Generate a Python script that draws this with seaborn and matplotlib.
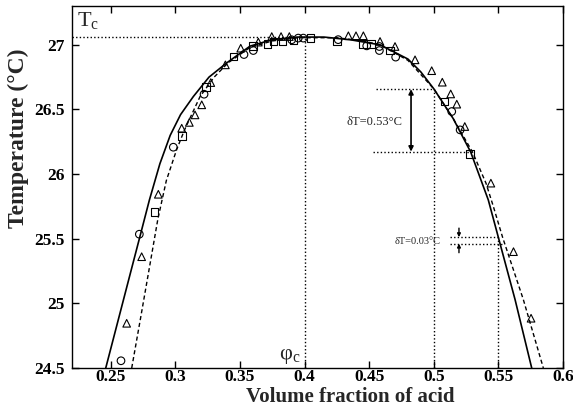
import matplotlib
matplotlib.use("Agg")
import matplotlib.pyplot as plt
import numpy as np
import pandas as pd
import seaborn as sns

# critical point
Tc = 27.064
phi_c = 0.40

# fitted coexistence curves
solid_phi = [0.2461, 0.2565, 0.2656, 0.2729, 0.2799, 0.2880, 0.2960, 0.3040, 0.3139, 0.3260, 0.3397, 0.3578,
             0.3750, 0.3950, 0.4150, 0.4350, 0.4584, 0.4800, 0.4900, 0.5000, 0.5150, 0.5286,
             0.5422, 0.5500, 0.5629, 0.5758]
solid_T = [24.50, 24.90, 25.25, 25.53, 25.80, 26.08, 26.30, 26.46, 26.60, 26.75, 26.86, 26.99,
           27.04, 27.06, 27.06, 27.04, 27.00, 26.89, 26.79, 26.66, 26.43, 26.17,
           25.80, 25.51, 25.03, 24.50]

dashed_phi = [0.2662, 0.2733, 0.2803, 0.2864, 0.2930, 0.3010, 0.3070, 0.3191, 0.3300, 0.3407, 0.3578,
              0.3750, 0.3950, 0.4250, 0.4450, 0.4584, 0.4800, 0.5000, 0.5150, 0.5300,
              0.5404, 0.5461, 0.5533, 0.5693, 0.5848]
dashed_T = [24.50, 24.90, 25.30, 25.65, 25.95, 26.19, 26.34, 26.60, 26.75, 26.86, 26.98,
            27.03, 27.055, 27.055, 27.03, 27.00, 26.88, 26.66, 26.43, 26.17,
            25.93, 25.75, 25.51, 25.03, 24.50]

# measured points
circ_phi = [0.2579, 0.2721, 0.2984, 0.3222, 0.3531, 0.3603, 0.3900, 0.3951, 0.3990, 0.4260,
            0.4481, 0.4579, 0.4579, 0.4705, 0.5139, 0.5204]
circ_T = [24.556, 25.535, 26.208, 26.618, 26.925, 26.956, 27.039, 27.052, 27.052, 27.040,
          26.992, 26.987, 26.956, 26.905, 26.484, 26.342]

sq_phi = [0.2838, 0.3049, 0.3237, 0.3449, 0.3599, 0.3712, 0.3758, 0.3828, 0.3913, 0.4047,
          0.4253, 0.4450, 0.4512, 0.4661, 0.5082, 0.5281]
sq_T = [25.705, 26.296, 26.673, 26.909, 26.990, 27.008, 27.026, 27.026, 27.033, 27.052,
        27.026, 27.008, 27.008, 26.956, 26.561, 26.156]

tri_phi = [0.2623, 0.2739, 0.2868, 0.3049, 0.3108, 0.3152, 0.3204, 0.3274, 0.3387, 0.3506,
           0.3642, 0.3746, 0.3818, 0.3882, 0.4339, 0.4398, 0.4455, 0.4584, 0.4700, 0.4855,
           0.4984, 0.5066, 0.5131, 0.5178, 0.5240, 0.5442, 0.5617, 0.5753]
tri_T = [24.846, 25.361, 25.844, 26.355, 26.400, 26.458, 26.536, 26.708, 26.845, 26.974,
         27.021, 27.064, 27.064, 27.064, 27.070, 27.070, 27.070, 27.026, 26.987, 26.884,
         26.800, 26.711, 26.620, 26.541, 26.368, 25.930, 25.400, 24.885]

x_ticks = [0.25, 0.3, 0.35, 0.4, 0.45, 0.5, 0.55, 0.6]
x_labels = ["0.25", "0.3", "0.35", "0.4", "0.45", "0.5", "0.55", "0.6"]
y_ticks = [24.5, 25, 25.5, 26, 26.5, 27]
y_labels = ["24.5", "25", "25.5", "26", "26.5", "27"]

# the two delta T markers
dT1_top, dT1_bot, dT1_phi = 26.657, 26.174, 0.50
dT2_top, dT2_bot, dT2_phi = 25.512, 25.462, 0.55

sns.set_style("ticks")
plt.rcParams["font.family"] = ["Liberation Serif", "DejaVu Serif"]
plt.rcParams["mathtext.fontset"] = "custom"
plt.rcParams["mathtext.rm"] = "Liberation Serif"
plt.rcParams["mathtext.it"] = "Liberation Serif:italic"
plt.rcParams["mathtext.bf"] = "Liberation Serif:bold"

fig = plt.figure(figsize=(5.73, 4.17), dpi=100)
ax = fig.add_axes([0.1257, 0.1175, 0.8568, 0.868])

sns.lineplot(x=solid_phi, y=solid_T, sort=False, estimator=None, color="black", lw=1.2, ax=ax)
sns.lineplot(x=dashed_phi, y=dashed_T, sort=False, estimator=None, color="black", lw=1.0,
             linestyle=(0, (3, 2)), ax=ax)

mk = dict(facecolor="none", edgecolor="black", linewidth=0.8, s=30, ax=ax, legend=False)
sns.scatterplot(x=circ_phi, y=circ_T, marker="o", **mk)
sns.scatterplot(x=sq_phi, y=sq_T, marker="s", **mk)
sns.scatterplot(x=tri_phi, y=tri_T, marker="^", **mk)

dot = dict(color="black", lw=1.0, linestyle=(0, (1, 1.6)))
ax.plot([0.22, phi_c], [Tc, Tc], **dot)
ax.plot([phi_c, phi_c], [24.5, Tc], **dot)

# delta T = 0.53
ax.plot([0.455, dT1_phi], [dT1_top, dT1_top], **dot)
ax.plot([0.453, 0.530], [dT1_bot, dT1_bot], **dot)
ax.plot([dT1_phi, dT1_phi], [24.5, dT1_top], **dot)
ax.annotate("", xy=(0.4824, dT1_top), xytext=(0.4824, dT1_bot),
            arrowprops=dict(arrowstyle="<|-|>", color="black", lw=1.2,
                            mutation_scale=7, shrinkA=0, shrinkB=0))
ax.text(0.4545, 26.404, "δT=0.53°C", ha="center", va="center", fontsize=9)

# delta T = 0.03
ax.plot([0.5125, dT2_phi], [dT2_top, dT2_top], **dot)
ax.plot([0.5125, 0.5525], [dT2_bot, dT2_bot], **dot)
ax.plot([dT2_phi, dT2_phi], [24.5, dT2_top], **dot)
ax.annotate("", xy=(0.5195, dT2_top), xytext=(0.5195, dT2_top + 0.07),
            arrowprops=dict(arrowstyle="-|>", color="black", lw=1.0,
                            mutation_scale=5, shrinkA=0, shrinkB=0))
ax.annotate("", xy=(0.5195, dT2_bot), xytext=(0.5195, dT2_bot - 0.07),
            arrowprops=dict(arrowstyle="-|>", color="black", lw=1.0,
                            mutation_scale=5, shrinkA=0, shrinkB=0))
ax.text(0.4875, 25.478, "δT=0.03°C", ha="center", va="center", fontsize=7.5)

ax.text(0.224, 27.19, r"$\mathrm{T_c}$", fontsize=16, ha="left", va="center")
ax.text(0.380, 24.59, r"$\mathrm{φ_c}$", fontsize=16, ha="left", va="center")

ax.set_xlim(0.22, 0.6)
ax.set_ylim(24.5, 27.3)
ax.set_xticks(x_ticks)
ax.set_xticklabels(x_labels)
ax.set_yticks(y_ticks)
ax.set_yticklabels(y_labels)
ax.tick_params(direction="in", length=5, width=1, top=True, right=True,
               labelsize=12.5, colors="black")
ax.tick_params(axis="x", pad=0.5)
ax.tick_params(axis="y", pad=5)
for lab in ax.get_xticklabels() + ax.get_yticklabels():
    lab.set_fontweight("bold")
for sp in ax.spines.values():
    sp.set_visible(True)
    sp.set_color("black")
    sp.set_linewidth(1.0)

ax.set_xlabel("Volume fraction of acid", fontsize=15, fontweight="bold")
ax.set_ylabel("Temperature (°C)", fontsize=17, fontweight="bold")
ax.xaxis.set_label_coords(0.566, -0.052)
ax.yaxis.set_label_coords(-0.088, 0.634)

fig.savefig("out.png", dpi=100)
